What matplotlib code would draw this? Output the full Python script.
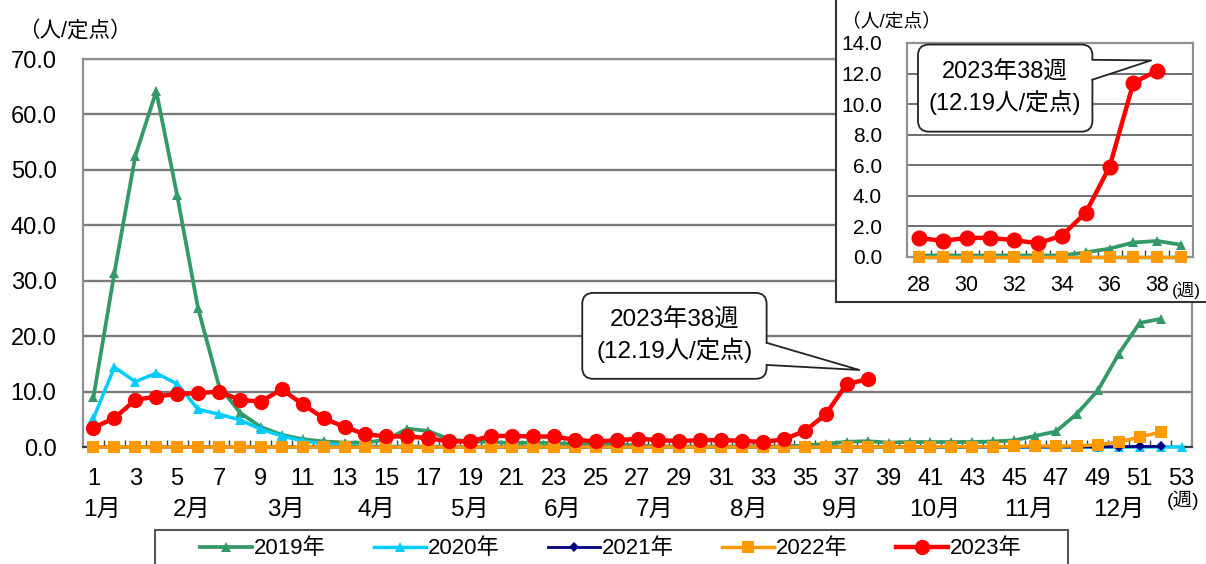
import matplotlib
matplotlib.use("Agg")
import matplotlib.pyplot as plt
from matplotlib.patches import FancyBboxPatch, Rectangle, Polygon
from matplotlib.lines import Line2D
import numpy as np

plt.rcParams['font.family'] = ['Liberation Sans', 'Noto Sans CJK JP']

# ---------------- data ----------------
series_names = ["2019年", "2020年", "2021年", "2022年", "2023年"]

v2019 = [9.0, 31.4, 52.5, 64.2, 45.4, 25.0, 11.0, 6.2, 3.6, 2.2,
         1.4, 1.0, 0.8, 0.8, 1.3, 3.3, 2.9, 1.4, 1.0, 0.9,
         0.7, 0.8, 0.7, 0.6, 0.5, 0.4, 0.3, 0.1, 0.1, 0.1,
         0.1, 0.1, 0.1, 0.1, 0.3, 0.55, 0.95, 1.05, 0.8, 0.9,
         0.9, 0.9, 0.9, 1.0, 1.2, 2.0, 2.8, 6.0, 10.2, 16.8,
         22.4, 23.1]
v2020 = [5.2, 14.4, 11.8, 13.3, 11.4, 6.8, 5.9, 4.9, 3.2, 2.0,
         1.1, 0.6, 0.3, 0.2, 0.1, 0.1, 0.1, 0.1, 0.0, 0.0,
         0.0, 0.0, 0.0, 0.0, 0.0, 0.0, 0.0, 0.0, 0.0, 0.0,
         0.0, 0.0, 0.0, 0.0, 0.0, 0.0, 0.0, 0.0, 0.0, 0.0,
         0.0, 0.0, 0.0, 0.0, 0.0, 0.0, 0.0, 0.0, 0.0, 0.0,
         0.0, 0.0, 0.0]
v2021 = [0.0] * 49 + [0.05, 0.1, 0.1]
v2022 = [0.0] * 40 + [0.05, 0.05, 0.05, 0.05, 0.1, 0.2, 0.15, 0.2,
                      0.4, 0.9, 1.8, 2.7]
v2023 = [3.5, 5.2, 8.5, 9.1, 9.6, 9.7, 10.0, 8.5, 8.2, 10.4,
         7.7, 5.2, 3.6, 2.3, 1.9, 1.9, 1.6, 1.0, 1.0, 2.0,
         2.0, 1.9, 1.9, 1.3, 1.0, 1.2, 1.5, 1.25, 1.05, 1.25,
         1.25, 1.1, 0.9, 1.4, 2.9, 5.9, 11.4, 12.19]
series_values = [v2019, v2020, v2021, v2022, v2023]

week_ticks = list(range(1, 54, 2))
month_labels = ["1月", "2月", "3月", "4月", "5月", "6月", "7月", "8月",
                "9月", "10月", "11月", "12月"]
y_ticks = list(range(0, 71, 10))
inset_x_ticks = list(range(28, 39, 2))
inset_y_ticks = list(range(0, 15, 2))
unit_label = "（人/定点）"
week_unit = "(週)"
callout_text = "2023年38週\n(12.19人/定点)"

# ---------------- styles ----------------
colors = ["#339966", "#00CCFF", "#000080", "#FF9900", "#FF0000"]
markers = ["^", "^", "D", "s", "o"]
msizes = [6.5, 6.5, 5, 8, 11]
lwidths = [2.7, 2.5, 2.0, 2.5, 3.2]
month_pos = [1.4, 5.7, 10.2, 14.5, 19.0, 23.4, 27.8, 32.3, 36.7, 41.2, 45.7, 50.0]

W, H = 1206, 564
fig = plt.figure(figsize=(W / 100, H / 100), dpi=100)

# ---------------- main axes ----------------
ax = fig.add_axes([83 / W, 1 - 447 / H, (1192 - 83) / W, (447 - 59) / H])
ax.set_xlim(0.5, 53.5)
ax.set_ylim(0, 70)
for name, vals, c, m, ms, lw in zip(series_names, series_values, colors,
                                     markers, msizes, lwidths):
    x = np.arange(1, len(vals) + 1)
    ax.plot(x, vals, color=c, marker=m, markersize=ms, lw=lw,
            markeredgewidth=0, clip_on=False, label=name, zorder=3)

ax.set_yticks(y_ticks)
ax.set_yticklabels([f"{t:.1f}" for t in y_ticks], fontsize=17)
ax.set_xticks(week_ticks)
ax.set_xticklabels([str(t) for t in week_ticks], fontsize=17)
ax.set_xticks(np.arange(1.5, 53, 1), minor=True)
ax.tick_params(axis='y', length=0, pad=19)
ax.tick_params(axis='x', which='major', length=0, pad=15)
ax.tick_params(axis='x', which='minor', direction='in', length=5,
               width=1, color='#404040')
ax.grid(axis='y', color='#7a7a7a', lw=1.7, zorder=1)
for s in ax.spines.values():
    s.set_color('#909090')
    s.set_linewidth(1.6)
ax.spines['bottom'].set_color('#404040')

for lab, pos in zip(month_labels, month_pos):
    ax.annotate(lab, xy=(pos, 0), xycoords=('data', 'axes fraction'),
                xytext=(0, -45.5), textcoords='offset points',
                ha='center', va='center', fontsize=17.5)
ax.annotate(week_unit, xy=(53, 0), xycoords=('data', 'axes fraction'),
            xytext=(1, -38.5), textcoords='offset points',
            ha='center', va='center', fontsize=14)
fig.text(18 / W, 1 - 31 / H, unit_label, fontsize=15.5, ha='left',
         va='center')


def callout(a, x0, x1, ytop, ybot, by0, by1, tip, text, fs, z=6):
    p0 = a.transData.transform((0, 0))
    px = a.transData.transform((1, 1)) - p0
    aspect = px[0] / px[1]
    r = 11 / px[0]
    box = FancyBboxPatch((x0, ybot), x1 - x0, ytop - ybot,
                         boxstyle=f"round,pad=0,rounding_size={r}",
                         mutation_aspect=aspect, fc='white', ec='#222222',
                         lw=1.3, zorder=z, clip_on=False)
    a.add_patch(box)
    eps = 3 / px[0]
    fill = Polygon([(x1 - eps, by0), tip, (x1 - eps, by1)], closed=True,
                   fc='white', ec='none', zorder=z + 1, clip_on=False)
    a.add_patch(fill)
    a.add_line(Line2D([x1, tip[0], x1], [by0, tip[1], by1], color='#222222',
                      lw=1.3, zorder=z + 2, clip_on=False))
    a.text((x0 + x1) / 2, (ytop + ybot) / 2, text, ha='center', va='center',
           fontsize=fs, linespacing=1.3, zorder=z + 3)


callout(ax, 24.36, 33.17, 27.8, 12.3, 18.8, 14.8, (37.6, 13.9),
        callout_text, 17.5)

# legend (frame drawn separately)
handles, labels = ax.get_legend_handles_labels()
leg = fig.legend(handles, labels, loc='center', ncol=5,
                 bbox_to_anchor=(611 / W, 1 - 549 / H), frameon=False,
                 fontsize=16, handlelength=2.3, handletextpad=0.1,
                 columnspacing=2.2, borderaxespad=0)
fig.add_artist(Rectangle((155 / W, -0.05), (1068 - 155) / W,
                         0.05 + 1 - 530 / H, transform=fig.transFigure,
                         fc='none', ec='#555555', lw=1.5, zorder=5))

# ---------------- inset ----------------
fig.add_artist(Rectangle((836 / W, 1 - 302 / H), 0.4, 0.6,
                         transform=fig.transFigure, fc='white',
                         ec='#333333', lw=1.5, zorder=1))
ia = fig.add_axes([907 / W, 1 - 257 / H, (1193 - 907) / W, (257 - 43) / H],
                  zorder=2)
ia.set_xlim(27.5, 39.5)
ia.set_ylim(0, 14)
for vals, c, m, ms, lw in zip(series_values, colors, markers, msizes, lwidths):
    x = np.arange(1, len(vals) + 1)
    sel = (x >= 28) & (x <= 39)
    ia.plot(x[sel], np.array(vals)[sel], color=c, marker=m,
            markersize=ms * 1.05, lw=lw, markeredgewidth=0, clip_on=False,
            zorder=3)
ia.set_yticks(inset_y_ticks)
ia.set_yticklabels([f"{t:.1f}" for t in inset_y_ticks], fontsize=15)
ia.set_xticks(inset_x_ticks)
ia.set_xticklabels([str(t) for t in inset_x_ticks], fontsize=15.5)
ia.set_xticks(np.arange(28.5, 39.5, 1), minor=True)
ia.tick_params(axis='y', length=0, pad=18)
ia.tick_params(axis='x', which='major', length=0, pad=13)
ia.tick_params(axis='x', which='minor', direction='in', length=5,
               width=1, color='#404040')
ia.grid(axis='y', color='#555555', lw=1.2, zorder=1)
for s in ia.spines.values():
    s.set_color('#909090')
    s.set_linewidth(1.6)
ia.annotate(week_unit, xy=(39.5, 0), xycoords=('data', 'axes fraction'),
            xytext=(-15, -24), textcoords='offset points',
            ha='left', va='center', fontsize=12.5)
fig.text(842 / W, 1 - 21 / H, unit_label, fontsize=13.5, ha='left',
         va='center', zorder=3)
callout(ia, 27.96, 35.28, 13.9, 8.2, 12.9, 11.6, (37.74, 12.86),
        callout_text, 17)

fig.savefig("out.png", dpi=100)
